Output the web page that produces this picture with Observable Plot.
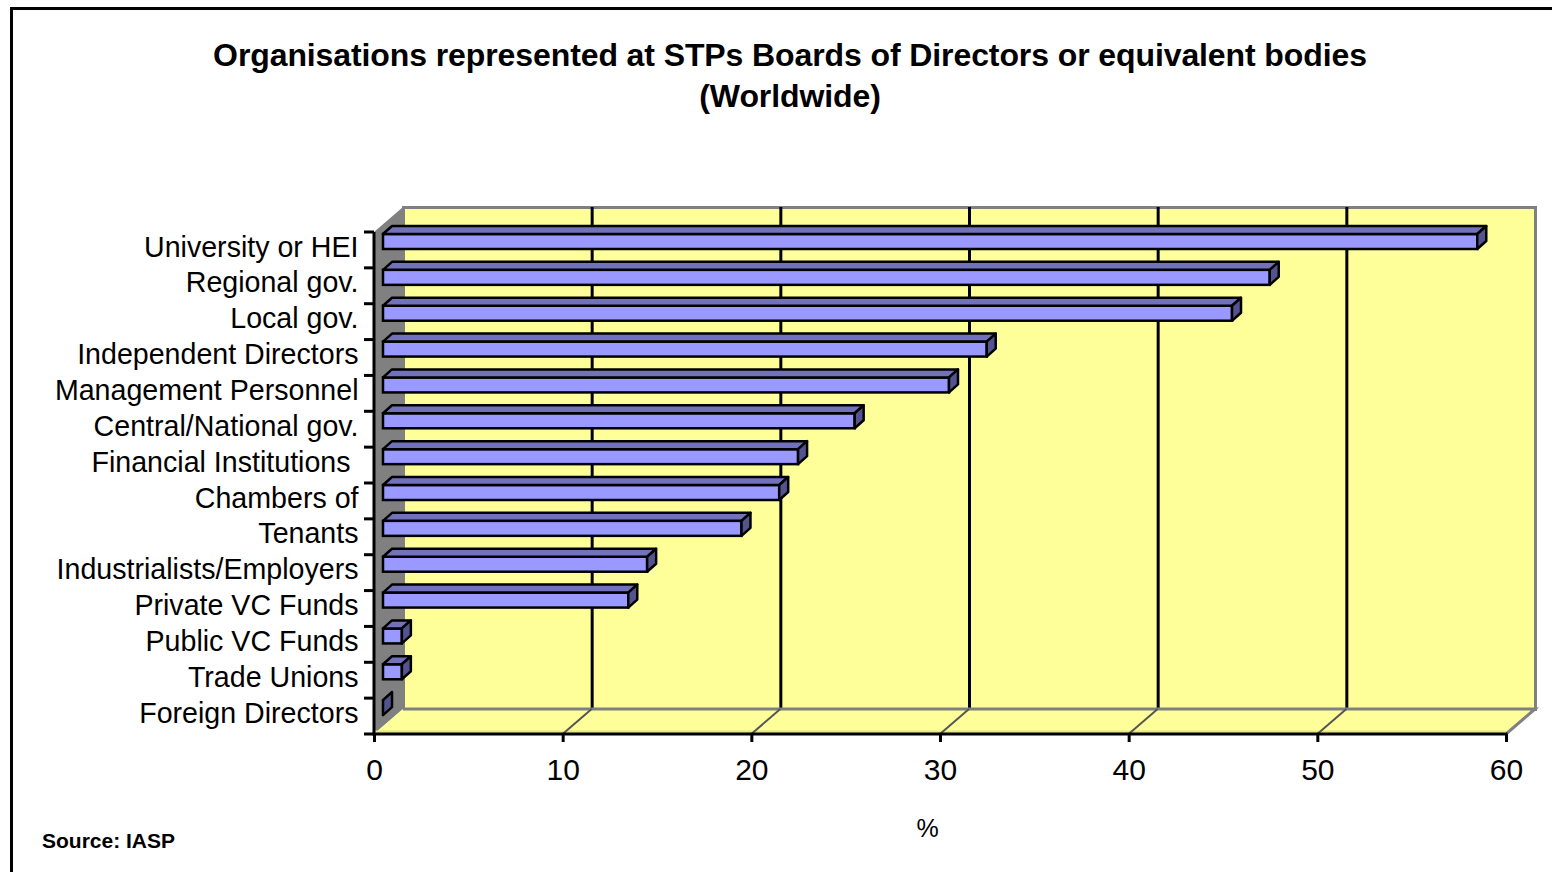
<!DOCTYPE html>
<html>
<head>
<meta charset="utf-8">
<script src="https://cdn.jsdelivr.net/npm/d3@7"></script>
<script src="https://cdn.jsdelivr.net/npm/@observablehq/plot@0.6"></script>
<style>
  html, body { margin: 0; padding: 0; background: #fff; width: 1552px; height: 872px; overflow: hidden;
    font-family: "Liberation Sans", Arial, sans-serif; }
  #border { position: absolute; left: 10px; top: 7px; width: 1600px; height: 900px;
    border-left: 3px solid #000; border-top: 3px solid #000; }
  .title { position: absolute; left: 0; width: 1580px; text-align: center; font-weight: bold;
    font-size: 32px; line-height: 40px; color: #000; letter-spacing: -0.1px; }
  #t1 { top: 35px; }
  #t2 { top: 76px; }
  #chart { position: absolute; left: 0; top: 150px; }
  #source { position: absolute; left: 42px; top: 829px; font-size: 21px; font-weight: bold; line-height: 24px; }
</style>
</head>
<body>
<div id="border"></div>
<div class="title" id="t1">Organisations represented at STPs Boards of Directors or equivalent bodies</div>
<div class="title" id="t2">(Worldwide)</div>
<div id="chart"></div>
<div id="source">Source: IASP</div>
<script>
// ---- data ----
const categories = [
  "University or HEI",
  "Regional gov.",
  "Local gov.",
  "Independent Directors",
  "Management Personnel",
  "Central/National gov.",
  "Financial Institutions\u00a0",
  "Chambers of",
  "Tenants",
  "Industrialists/Employers",
  "Private VC Funds",
  "Public VC Funds",
  "Trade Unions",
  "Foreign Directors"
];
const values = [58, 47, 45, 32, 30, 25, 22, 21, 19, 14, 13, 1, 1, 0];
const xTicks = [0, 10, 20, 30, 40, 50, 60];
const xGrid = [10, 20, 30, 40, 50];
const xLabel = "%";

const data = categories.map((c, i) => ({cat: c, value: values[i]}));

// ---- 3D styling constants (pixels) ----
const WDX = 29, WDY = -25;   // depth of the walls
const BOX = 9;               // bar front-face offset into depth
const BDX = 9, BDY = -8;     // bar depth
const FACE_TOP = 2, FACE_H = 15;
const BAND = 502 / 14;

function wallsMark(index, scales, values, dimensions) {
  const x = scales.x;
  const {marginTop, marginBottom, height} = dimensions;
  const yTop = marginTop, yBot = height - marginBottom;
  const x0 = x(0), x1 = x(60);
  const g = d3.create("svg:g");
  // left wall
  g.append("path")
    .attr("d", `M${x0},${yTop}L${x0 + WDX},${yTop + WDY}L${x0 + WDX},${yBot + WDY}L${x0},${yBot}Z`)
    .attr("fill", "#808080");
  // floor
  g.append("path")
    .attr("d", `M${x0},${yBot}L${x0 + WDX},${yBot + WDY}L${x1 + WDX},${yBot + WDY}L${x1},${yBot}Z`)
    .attr("fill", "#FFFF99");
  g.append("path")
    .attr("d", `M${x0 + WDX},${yBot + WDY}L${x1 + WDX},${yBot + WDY}L${x1},${yBot}`)
    .attr("fill", "none").attr("stroke", "#808080").attr("stroke-width", 3);
  g.append("line")
    .attr("x1", x0).attr("x2", x1).attr("y1", yBot - 2).attr("y2", yBot - 2)
    .attr("stroke", "#E6E68C").attr("stroke-width", 3);
  for (const t of xGrid) {
    g.append("line")
      .attr("x1", x(t)).attr("y1", yBot).attr("x2", x(t) + WDX).attr("y2", yBot + WDY)
      .attr("stroke", "#555").attr("stroke-width", 2);
  }
  return g.node();
}

function barFacesMark(index, scales) {
  const x = scales.x, y = scales.y;
  const g = d3.create("svg:g").attr("stroke", "#000").attr("stroke-width", 2.5).attr("stroke-linejoin", "round");
  for (const d of data) {
    const X0 = x(0) + BOX, Xv = x(d.value) + BOX;
    const T = y(d.cat) + FACE_TOP, B = T + FACE_H;
    g.append("path")
      .attr("d", `M${X0},${T}L${X0 + BDX},${T + BDY}L${Xv + BDX},${T + BDY}L${Xv},${T}Z`)
      .attr("fill", "#7272BC");
    g.append("path")
      .attr("d", `M${Xv},${T}L${Xv + BDX},${T + BDY}L${Xv + BDX},${B + BDY}L${Xv},${B}Z`)
      .attr("fill", "#53538F");
  }
  return g.node();
}

function frontAxesMark(index, scales, values, dimensions) {
  const x = scales.x, y = scales.y;
  const {marginTop, marginBottom, height} = dimensions;
  const yTop = marginTop, yBot = height - marginBottom;
  const x0 = x(0), x1 = x(60);
  const g = d3.create("svg:g").attr("stroke", "#000").attr("stroke-width", 3);
  g.append("line").attr("x1", x0).attr("x2", x0).attr("y1", yTop).attr("y2", yBot + 1.5);
  g.append("line").attr("x1", x0 - 1.5).attr("x2", x1 + 1.5).attr("y1", yBot).attr("y2", yBot);
  const bounds = categories.map(c => y(c)).concat([yBot]);
  for (const b of bounds) {
    g.append("line").attr("x1", x0 - 10).attr("x2", x0).attr("y1", b).attr("y2", b);
  }
  return g.node();
}

const plot = Plot.plot({
  width: 1552,
  height: 722,
  marginLeft: 374,
  marginRight: 46,
  marginTop: 82,
  marginBottom: 138,
  style: {fontFamily: "'Liberation Sans', Arial, sans-serif", color: "#000", background: "transparent"},
  x: {domain: [0, 60], ticks: xTicks},
  y: {domain: categories, padding: 0, round: false},
  marks: [
    Plot.frame({fill: "#FFFF99", stroke: "#808080", strokeWidth: 3, dx: WDX, dy: WDY}),
    Plot.ruleX(xGrid, {stroke: "#000", strokeWidth: 3, dx: WDX, dy: WDY}),
    wallsMark,
    Plot.barX(data, {y: "cat", x1: 0, x2: "value", dx: BOX, insetTop: FACE_TOP, insetBottom: BAND - FACE_TOP - FACE_H,
      fill: "#9999FF", stroke: "#000", strokeWidth: 2.5}),
    barFacesMark,
    frontAxesMark,
    Plot.axisY({tickSize: 0, tickPadding: 16, fontSize: 28.6, dy: -3, label: null}),
    Plot.axisX({ticks: xTicks, tickSize: 8, tickPadding: 16, fontSize: 30, strokeWidth: 3, label: null}),
    Plot.text([xLabel], {frameAnchor: "bottom", lineAnchor: "middle", dx: -13, dy: 94, fontSize: 25})
  ]
});
document.getElementById("chart").appendChild(plot);
</script>
</body>
</html>
